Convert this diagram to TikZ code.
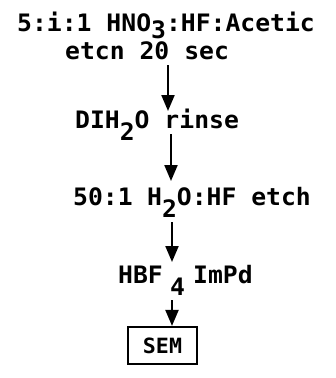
\documentclass[tikz,border=0pt]{standalone}
\usepackage{fontspec}
\newfontfamily\lf[FakeStretch=1.03]{DejaVu Sans Mono Bold}
\usetikzlibrary{arrows.meta}
\newcommand{\subdn}[1]{\raisebox{-0.5em}{#1}}
\newcommand{\subup}[1]{\raisebox{-0.32em}{#1}}
\begin{document}
\begin{tikzpicture}[x=1pt,y=1pt,
  lbl/.style={inner sep=0pt,anchor=base west,font=\lf\fontsize{24}{26}\selectfont},
  arr/.style={line width=2.2pt,-{Triangle[length=16pt,width=13pt]}},
  boxed/.style={draw,line width=2.2pt,minimum width=69pt,minimum height=37pt,inner sep=0pt,font=\lf\fontsize{21}{24}\selectfont}]
\useasboundingbox (0,0) rectangle (336,-378);
\node[lbl] (l1) at (17,-31) {5:i:1 HNO\subup{3}:HF:Acetic};
\node[lbl] (l2) at (65,-59) {etcn 20 sec};
\node[lbl] (l3) at (75,-128) {DIH\subdn{2}O rinse};
\node[lbl] (l4) at (73,-205) {50:1\hspace{0.6em}H\subdn{2}O:HF etch};
\node[lbl] (l5) at (118,-283) {HBF\hspace{0.3em}\subdn{4}};
\node[lbl] (l6) at (193,-283) {ImPd};
\node[boxed] (sem) at (162.5,-345.5) {SEM};
\coordinate (a1s) at (168,-65);
\coordinate (a1e) at (168,-111);
\coordinate (a2s) at (171,-134);
\coordinate (a2e) at (171,-181);
\coordinate (a3s) at (172,-222);
\coordinate (a3e) at (172,-262);
\coordinate (a4s) at (172,-300);
\draw[arr] (a1s) -- (a1e);
\draw[arr] (a2s) -- (a2e);
\draw[arr] (a3s) -- (a3e);
\draw[arr] (a4s) -- (sem.north -| a4s);
\end{tikzpicture}
\end{document}
